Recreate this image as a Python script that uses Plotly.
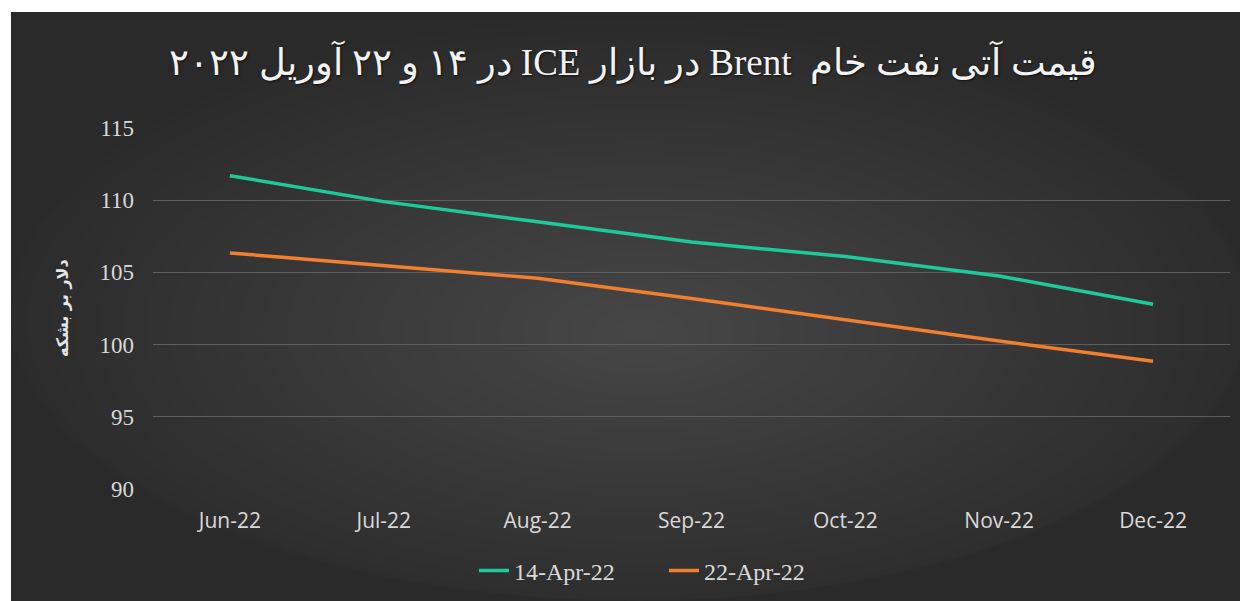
import plotly.graph_objects as go

months = ['Jun-22', 'Jul-22', 'Aug-22', 'Sep-22', 'Oct-22', 'Nov-22', 'Dec-22']
apr14 = [111.7, 109.9, 108.5, 107.1, 106.1, 104.75, 102.8]
apr22 = [106.35, 105.45, 104.6, 103.2, 101.7, 100.25, 98.85]

OFF = 8  # page body margin
W, H = 1248 - OFF, 601 - OFF
L, R, T, B = 153 - OFF, 1230 - OFF, 128 - OFF, 489 - OFF  # plot box, figure pixels


def px(x):
    # screen pixel -> paper x
    return (x - OFF - L) / (R - L)


def py(y):
    return (B - (y - OFF)) / (B - T)


shapes = [dict(type='rect', xref='paper', yref='paper', layer='below',
               x0=px(11), x1=px(1260), y0=py(620), y1=py(12),
               fillcolor='#2a2a2a', line_width=0)]
# fake radial gradient with stacked ellipses
cx, cy = 640, 330
n = 28
for i in range(n):
    f = 1 - i / n
    rx, ry = 660 * f, 310 * f
    shapes.append(dict(type='circle', xref='paper', yref='paper', layer='below',
                       x0=px(max(11, cx - rx)), x1=px(min(1248, cx + rx)),
                       y0=py(min(601, cy + ry)), y1=py(max(12, cy - ry)),
                       fillcolor='rgba(255,255,255,0.0068)', line_width=0))

fig = go.Figure()
fig.add_trace(go.Scatter(x=months, y=apr14, name='14-Apr-22', mode='lines',
                         line=dict(color='#1ecb98', width=3.5)))
fig.add_trace(go.Scatter(x=months, y=apr22, name='22-Apr-22', mode='lines',
                         line=dict(color='#f07f2f', width=3.5)))

fig.add_annotation(text='<b>دلار بر بشکه</b>', textangle=-90, showarrow=False,
                   xref='paper', yref='paper', x=px(62), y=py(308),
                   xanchor='center', yanchor='middle',
                   font=dict(family='DejaVu Sans', size=16, color='#e6e6e6'))

fig.update_layout(
    width=W, height=H, autosize=False,
    margin=dict(l=L, r=W - R, t=T, b=H - B, autoexpand=False),
    paper_bgcolor='white', plot_bgcolor='rgba(0,0,0,0)',
    shapes=shapes,
    title=dict(text='\u202bقیمت آتی نفت خام  Brent در بازار ICE در ۱۴ و ۲۲ آوریل ۲۰۲۲\u202c',
               x=(633 - OFF) / W, xanchor='center', y=1 - (62 - OFF) / H, yanchor='middle',
               font=dict(family='Liberation Serif, DejaVu Serif', size=37, color='#f2f2f2',
                         shadow='1px 1px 2px #111')),
    xaxis=dict(range=[-0.5, 6.5], tickfont=dict(family='Open Sans', size=21, color='#d9d9d9'),
               showgrid=False, zeroline=False, showline=False, ticks='', automargin=False,
               ticklabelstandoff=17),
    yaxis=dict(range=[90, 115], dtick=5, tickfont=dict(family='Liberation Serif', size=23, color='#d9d9d9'),
               gridcolor='#5e5e5e', gridwidth=1, zeroline=False, showline=False,
               ticklabelstandoff=18, automargin=False),
    legend=dict(orientation='h', x=px(474), xanchor='left', y=py(571), yanchor='middle',
                font=dict(family='Liberation Serif', size=24, color='#d9d9d9'),
                entrywidth=145, bgcolor='rgba(0,0,0,0)'),
    showlegend=True,
)

fig.write_html('out.html')
